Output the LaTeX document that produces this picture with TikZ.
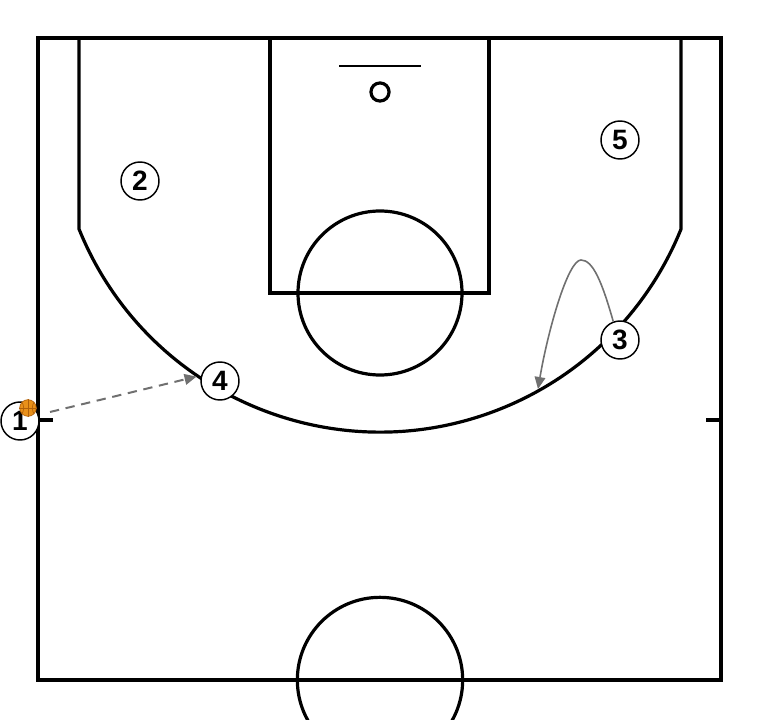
\documentclass[tikz,border=0pt]{standalone}
\usepackage{fontspec}
\setmainfont{Liberation Sans}
\usetikzlibrary{arrows.meta}
\definecolor{ballorange}{HTML}{E8901A}
\definecolor{balledge}{HTML}{B0600A}
\definecolor{movegrey}{HTML}{707070}
\begin{document}
\begin{tikzpicture}[x=0.75pt,y=-0.75pt,
  court/.style={line width=2.4pt,black},
  player/.style={circle,draw=black,line width=1.1pt,fill=white,minimum size=28.5pt,inner sep=0pt,font=\fontsize{21}{21}\selectfont\bfseries},
  passline/.style={movegrey,line width=1.5pt,dash pattern=on 7pt off 5pt,-{Triangle[length=9pt,width=8pt]}},
  moveline/.style={movegrey,line width=1.2pt,-{Triangle[length=9pt,width=8pt]}}]
\useasboundingbox (0,0) rectangle (760,720);
\clip (0,0) rectangle (760,720);
% court outline
\draw[court] (38,38) rectangle (721,680);
% ticks
\draw[court] (38,420) -- (53,420);
\draw[court] (706,420) -- (721,420);
% lane
\draw[court] (270,38) -- (270,293) -- (489,293) -- (489,38);
% free throw circle
\draw[court] (380,293) circle[radius=61.5pt];
% backboard and basket
\draw[line width=1.1pt] (339,66) -- (421,66);
\draw[court] (380,92) circle[radius=6.8pt];
% three point line
\draw[court] (79,38) -- (79,229) arc[start angle=202, end angle=338, radius=243.5pt] -- (681,38);
% center circle
\draw[court] (380,680) circle[radius=62pt];
% players
\node[player] (p1) at (20,421) {1};
\node[player] (p2) at (140,181) {2};
\node[player] (p3) at (620,340) {3};
\node[player] (p4) at (220,381) {4};
\node[player] (p5) at (620,140) {5};
% ball
\node[circle,fill=ballorange,draw=balledge,line width=0.5pt,minimum size=12.5pt,inner sep=0pt] (ball) at (28,408) {};
\draw[balledge,line width=0.5pt] (ball.north) -- (ball.south) (ball.west) -- (ball.east);
\draw[balledge,line width=0.5pt] (ball.north west) to[bend left=30] (ball.south west);
\draw[balledge,line width=0.5pt] (ball.north east) to[bend right=30] (ball.south east);
% pass
\coordinate (passA) at (50,412);
\draw[passline] (passA) -- ([shift={(-4,-1)}]p4.170);
% movement of 3
\coordinate (peak) at (581,260);
\coordinate (endm) at (538,389);
\draw[moveline] (p3.110) .. controls (602,282) and (593,260) .. (peak) .. controls (568,260) and (548,330) .. (endm);
\end{tikzpicture}
\end{document}
